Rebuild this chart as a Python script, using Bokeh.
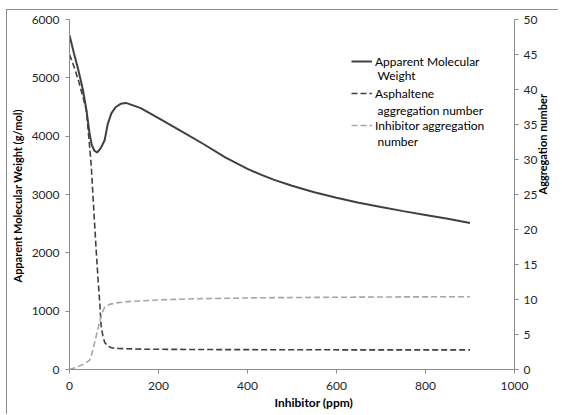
import math
from bokeh.plotting import figure
from bokeh.models import Range1d, LinearAxis, SingleIntervalTicker, Legend, LegendItem, Label, Title
from bokeh.embed import file_html
from bokeh.resources import INLINE

# ---- data ----
mw_ppm = [0, 10, 20, 30, 38, 45, 50, 56, 62, 70, 79, 86, 94, 104, 115, 127, 160, 200, 250,
          300, 350, 400, 430, 460, 500, 550, 600, 650, 700, 750, 800, 850, 900]
mw_val = [5730, 5420, 5130, 4800, 4450, 4050, 3850, 3750, 3720, 3790, 3930, 4210, 4390, 4500,
          4555, 4570, 4480, 4310, 4090, 3870, 3635, 3440, 3340, 3250, 3150, 3040, 2945, 2860,
          2785, 2715, 2650, 2585, 2510]

asp_ppm = [0, 10, 20, 30, 38, 45, 49, 53, 60, 64, 68, 71, 75, 79, 85, 94, 110, 170, 300, 500, 700, 900]
asp_val = [45, 43.3, 41.3, 39, 37, 32, 29, 24.5, 17, 13, 9.5, 6.3, 4.8, 3.9, 3.4, 3.1, 3.0, 2.9,
           2.85, 2.82, 2.8, 2.8]

inh_ppm = [0, 15, 30, 45, 50, 56, 62, 68, 73, 79, 90, 110, 131, 205, 279, 428, 600, 750, 900]
inh_val = [0, 0.3, 0.7, 1.3, 2.2, 3.7, 5.3, 6.9, 8.0, 8.9, 9.3, 9.55, 9.7, 9.95, 10.1, 10.25,
           10.32, 10.37, 10.4]

legend_labels = ["Apparent Molecular", "Asphaltene", "Inhibitor aggregation"]
legend_cont = ["Weight", "aggregation number", "number"]

FONT = "Lato"
AXIS_GRAY = "#8c8c8c"

W, H = 552, 405
BL, BR, BT, BB = 58, 45, 9, 46
FW, FH = W - BL - BR, H - BT - BB

p = figure(width=W, height=H, output_backend="svg", toolbar_location=None,
           x_range=Range1d(0, 1000), y_range=Range1d(0, 6000),
           min_border_left=BL, min_border_right=BR, min_border_top=BT, min_border_bottom=BB)
p.margin = (9, 0, 0, 6)
p.extra_y_ranges = {"agg": Range1d(0, 50)}
p.outline_line_color = None
p.grid.visible = False
p.background_fill_color = "white"
p.border_fill_color = "white"

r_mw = p.line(mw_ppm, mw_val, line_color="#404040", line_width=2)
r_asp = p.line(asp_ppm, asp_val, y_range_name="agg", line_color="#404040", line_width=1.6,
               line_dash="6 3")
r_inh = p.line(inh_ppm, inh_val, y_range_name="agg", line_color="#a6a6a6", line_width=1.6,
               line_dash="6 3")

right = LinearAxis(y_range_name="agg", axis_label="Aggregation number")
p.add_layout(right, "right")

p.xaxis.ticker = SingleIntervalTicker(interval=200)
p.yaxis[0].ticker = SingleIntervalTicker(interval=1000)
right.ticker = SingleIntervalTicker(interval=5)
p.yaxis[0].axis_label = "Apparent Molecular  Weight (g/mol)"

for ax in [p.xaxis[0], p.yaxis[0], right]:
    ax.axis_line_color = AXIS_GRAY
    ax.major_tick_line_color = AXIS_GRAY
    ax.major_tick_out = 4
    ax.major_tick_in = 0
    ax.minor_tick_line_color = None
    ax.major_label_text_font = FONT
    ax.major_label_text_font_size = "12px"
    ax.major_label_text_color = "#262626"
    ax.axis_label_text_font = FONT
    ax.axis_label_text_font_style = "bold"
    ax.axis_label_text_color = "#000000"
    ax.axis_label_text_font_size = "11px"

p.xaxis.major_label_standoff = 8
p.yaxis[0].major_label_standoff = 6
p.yaxis[0].axis_label_standoff = 5
right.major_label_standoff = 5
right.axis_label_standoff = 2
if "axis_label_orientation" in right.properties():
    right.axis_label_orientation = math.pi / 2

# x axis title (offset to the right, as in the reference)
p.add_layout(Title(text="Inhibitor (ppm)", align="left", offset=205, standoff=0,
                   text_font=FONT, text_font_size="12px", text_font_style="bold",
                   text_color="#000000"), "below")

legend = Legend(items=[LegendItem(label=legend_labels[0], renderers=[r_mw]),
                       LegendItem(label=legend_labels[1], renderers=[r_asp]),
                       LegendItem(label=legend_labels[2], renderers=[r_inh])],
                location=(282, 236), border_line_color=None, background_fill_alpha=0,
                padding=0, margin=0, spacing=16, glyph_width=21, label_standoff=3,
                label_text_font=FONT, label_text_font_size="12px", label_text_color="#000000",
                label_height=16, glyph_height=16)
p.add_layout(legend)

for txt, yy in zip(legend_cont, [294, 259.5, 228.5]):
    p.add_layout(Label(x=308, y=yy, x_units="screen", y_units="screen",
                       text=txt, text_font=FONT, text_font_size="12px", text_color="#000000",
                       text_baseline="middle"))

# chart-area border (top and left edges)
p.styles = {"border-top": "1px solid #8c8c8c", "border-left": "1px solid #8c8c8c"}

open("out.html", "w").write(file_html(p, INLINE))
